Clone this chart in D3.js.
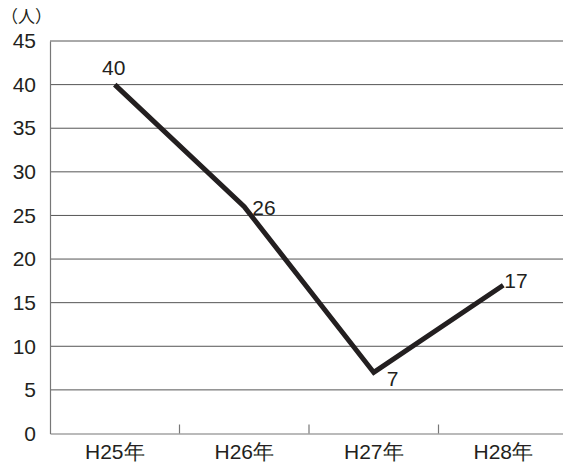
<!DOCTYPE html>
<html><head><meta charset="utf-8">
<script src="https://cdn.jsdelivr.net/npm/d3@7"></script>
<style>
html,body{margin:0;padding:0;background:#fff;}
svg{display:block;font-family:"Liberation Sans","Noto Sans CJK JP",sans-serif;}
</style></head>
<body>
<svg id="c" width="563" height="469"></svg>
<script>
const categories = ["H25年","H26年","H27年","H28年"];
const values = [40, 26, 7, 17];
const yTicks = [0,5,10,15,20,25,30,35,40,45];
const unitLabel = "（人）";

const svg = d3.select("#c");
const mLeft = 50, mRight = 568, mTop = 41, mBottom = 433.5;
const x = d3.scaleBand().domain(categories).range([mLeft, mRight]);
const y = d3.scaleLinear().domain([0,45]).range([mBottom, mTop]);

// gridlines
svg.append("g").selectAll("line").data(yTicks.filter(d=>d>0)).join("line")
  .attr("x1", mLeft).attr("x2", mRight)
  .attr("y1", d=>y(d)).attr("y2", d=>y(d))
  .attr("stroke", "#555").attr("stroke-width", 1);

// y axis
const ya = svg.append("g").attr("transform", `translate(${mLeft},0)`)
  .call(d3.axisLeft(y).tickValues(yTicks).tickSize(0).tickPadding(14));
ya.select(".domain").attr("stroke", "#777").attr("stroke-width", 1.2);
ya.selectAll("text").attr("font-size", 21).attr("fill", "#231f20")
  .attr("font-family", "Liberation Sans, sans-serif");

// x axis with inner ticks at band boundaries
const xa = svg.append("g").attr("transform", `translate(0,${mBottom})`)
  .call(d3.axisBottom(x).tickSize(0).tickPadding(11));
xa.select(".domain").attr("stroke", "#777").attr("stroke-width", 1.2);
xa.selectAll("text").attr("font-size", 21).attr("fill", "#231f20");
const bounds = categories.slice(1).map(c => x(c));
svg.append("g").selectAll("line").data(bounds).join("line")
  .attr("x1", d=>d).attr("x2", d=>d).attr("y1", mBottom).attr("y2", mBottom-9)
  .attr("stroke", "#777").attr("stroke-width", 1.2);

// line
const cx = c => x(c) + x.bandwidth()/2;
const pts = categories.map((c,i)=>[cx(c), y(values[i])]);
svg.append("path").attr("d", d3.line()(pts))
  .attr("fill","none").attr("stroke","#231f20").attr("stroke-width",5)
  .attr("stroke-linejoin","miter");

// data labels
const offsets = [
  {dx:-1, dy:-10, anchor:"middle"},
  {dx:8, dy:8, anchor:"start"},
  {dx:13, dy:14, anchor:"start"},
  {dx:1, dy:3, anchor:"start"}
];
svg.append("g").selectAll("text").data(values).join("text")
  .attr("x", (d,i)=>pts[i][0]+offsets[i].dx)
  .attr("y", (d,i)=>pts[i][1]+offsets[i].dy)
  .attr("text-anchor", (d,i)=>offsets[i].anchor)
  .attr("font-size", 21).attr("fill", "#231f20")
  .text(d=>d);

// unit label
svg.append("text").attr("x", 1).attr("y", 23)
  .attr("font-size", 17).attr("fill", "#231f20")
  .attr("font-family", "Noto Sans CJK JP, sans-serif")
  .text(unitLabel);
</script>
</body></html>
